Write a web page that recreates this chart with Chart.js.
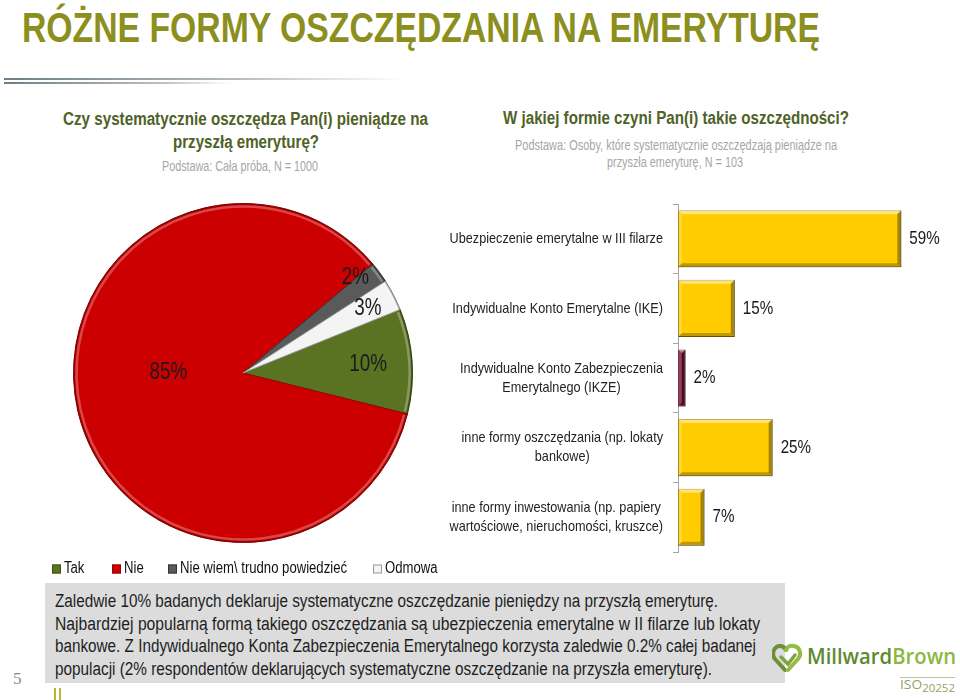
<!DOCTYPE html>
<html lang="pl">
<head>
<meta charset="utf-8">
<title>Różne formy oszczędzania na emeryturę</title>
<script src="https://cdn.jsdelivr.net/npm/chart.js@4.4.1/dist/chart.umd.min.js"></script>
<style>
  html, body { margin: 0; padding: 0; background: #fff; }
  body { width: 960px; height: 700px; position: relative; overflow: hidden;
         font-family: "Liberation Sans", Arial, sans-serif; }
  .ln { position: absolute; white-space: nowrap; display: inline-block; transform-origin: left center; }
  .title { font-size: 42px; line-height: 42px; font-weight: bold; color: #8C8F1E; }
  .q { font-weight: bold; color: #4F6228; font-size: 18px; line-height: 22px; }
  .base { color: #A6A6A6; font-size: 14px; line-height: 17px; }
  .note { font-size: 18px; line-height: 21px; color: #1E1E1E; }
  .brand { font-family: "Open Sans", Lato, sans-serif; font-weight: 600; font-size: 22px; line-height: 26px; }
  .iso { font-family: "Open Sans", sans-serif; font-size: 12px; line-height: 14px; color: #8FA560; border-top: 1px solid #B7C59A; }
  .rule { position: absolute; left: 4px; height: 2px; }
  #box { position: absolute; left: 45px; top: 583px; width: 740px; height: 100px; background: #DCDCDC; }
  #page { position: absolute; left: 13px; top: 669px; font-family: "Liberation Serif", "DejaVu Serif", serif; font-size: 17px; color: #8A8A8A; }
  .tick { position: absolute; top: 688px; width: 2px; height: 12px; background: #B8B830; }
  #logo { position: absolute; left: 772px; top: 643px; }
  canvas { position: absolute; }
</style>
</head>
<body>
<div class="rule" style="top:78px;width:400px;background:linear-gradient(to right,#6F7E86,#AEB8BD 55%,rgba(255,255,255,0));"></div>
<div class="rule" style="top:82px;width:228px;background:linear-gradient(to right,#6F7E86,#B9C1C5 70%,rgba(255,255,255,0));"></div>
<div id="box"></div>

<canvas id="pieChart" width="418" height="396" style="left:34px;top:190px;"></canvas>
<canvas id="barChart" width="530" height="370" style="left:430px;top:190px;"></canvas>

<div id="page">5</div>
<div class="tick" style="left:54px;"></div>
<div class="tick" style="left:59px;"></div>

<svg id="logo" width="34" height="30" viewBox="0 0 34 30">
  <path d="M13 27 L3 16 C-1 11 2 3 8 3 C11 3 13 5 14 7" fill="none" stroke="#6E8F3A" stroke-width="4" stroke-linecap="round"/>
  <path d="M14 7 C15 4 18 2 22 3 C28 4 30 11 26 16 L16 27" fill="none" stroke="#93BC45" stroke-width="4" stroke-linecap="round"/>
  <path d="M9 14 L16 21 L23 12" fill="none" stroke="#7FA33E" stroke-width="3.5" stroke-linecap="round"/>
</svg>

<script>
const FONT = '"Liberation Sans", Arial, sans-serif';
const NARROW_K = 0.82;   // squeeze Liberation Sans to look like Arial Narrow

// pie: Czy systematycznie oszczędza...
const pieLabels = ['Tak', 'Nie', 'Nie wiem\\ trudno powiedzieć', 'Odmowa'];
const pieValues = [10, 85, 2, 3];

// bars: W jakiej formie...
const barLabels = [
  ['Ubezpieczenie emerytalne w III filarze'],
  ['Indywidualne Konto Emerytalne (IKE)'],
  ['Indywidualne Konto Zabezpieczenia', 'Emerytalnego (IKZE)'],
  ['inne formy oszczędzania (np. lokaty', 'bankowe)'],
  ['inne formy inwestowania (np. papiery', 'wartościowe, nieruchomości, kruszce)']
];
const barValues = [59, 15, 2, 25, 7];

// styles
const pieColors = ['#5A7322', '#CC0000', '#5A5A5A', '#F4F4F4'];
const pieBorders = ['#3E5214', '#9A0000', '#333333', '#9A9A9A'];
const pieLabelRadius = [0.74, 0.44, 0.87, 0.83];
const pieLabelTurn = [0, 13, -4, 0];  // degrees, nudges label position along the slice
const legendX = [18, 78, 134, 339];   // box positions inside pie canvas
const barColors = ['#FFCC00', '#FFCC00', '#7A0E30', '#FFCC00', '#FFCC00'];
const barBorders = ['#8C6D00', '#8C6D00', '#4A0418', '#8C6D00', '#8C6D00'];

// text lines: [text, class, left, centerY, width]
const textLines = [
  ['RÓŻNE FORMY OSZCZĘDZANIA NA EMERYTURĘ', 'title', 22, 28, 798],
  ['Czy systematycznie oszczędza Pan(i) pieniądze na', 'q', 63, 119, 365],
  ['przyszłą emeryturę?', 'q', 173, 142, 146],
  ['Podstawa: Cała próba, N = 1000', 'base', 162, 166, 156],
  ['W jakiej formie czyni Pan(i) takie oszczędności?', 'q', 503, 118, 346],
  ['Podstawa: Osoby, które systematycznie oszczędzają pieniądze na', 'base', 515, 145, 322],
  ['przyszła emeryturę, N = 103', 'base', 607, 162, 136],
  ['Zaledwie 10% badanych deklaruje systematyczne oszczędzanie pieniędzy na przyszłą emeryturę.', 'note', 55, 601, 663],
  ['Najbardziej popularną formą takiego oszczędzania są ubezpieczenia emerytalne w II filarze lub lokaty', 'note', 55, 624, 705],
  ['bankowe. Z Indywidualnego Konta Zabezpieczenia Emerytalnego korzysta zaledwie 0.2% całej badanej', 'note', 55, 646, 701],
  ['populacji (2% respondentów deklarujących systematyczne oszczędzanie na przyszła emeryturę).', 'note', 55, 669, 657],
  ['<span style="color:#5E8A2E">Millward</span><span style="color:#8CB83F">Brown</span>', 'brand', 807, 655, 149],
  ['ISO<sub style="font-size:10px">20252</sub>', 'iso', 900, 686, 55]
];

textLines.forEach(t => {
  const el = document.createElement('div');
  el.className = 'ln ' + t[1];
  el.innerHTML = t[0];
  document.body.appendChild(el);
  const r = el.getBoundingClientRect();
  el.style.left = t[2] + 'px';
  el.style.top = (t[3] - r.height / 2) + 'px';
  el.style.transform = 'scaleX(' + (t[4] / r.width) + ')';
});

function narrowText(ctx, text, x, y, align, k) {
  ctx.save();
  ctx.translate(x, y);
  ctx.scale(k, 1);
  ctx.textAlign = align;
  ctx.fillText(text, 0, 0);
  ctx.restore();
}

// 3D-ish edge on the slices
const pieBevel = {
  id: 'pieBevel',
  afterDatasetsDraw(chart) {
    const ctx = chart.ctx;
    ctx.save();
    chart.getDatasetMeta(0).data.forEach(arc => {
      const p = arc.getProps(['x', 'y', 'startAngle', 'endAngle', 'outerRadius'], true);
      ctx.beginPath();
      ctx.arc(p.x, p.y, p.outerRadius - 3, p.startAngle + 0.01, p.endAngle - 0.01);
      ctx.strokeStyle = 'rgba(255,255,255,0.28)';
      ctx.lineWidth = 2.5;
      ctx.stroke();
      ctx.beginPath();
      ctx.arc(p.x, p.y, p.outerRadius - 0.5, p.startAngle, p.endAngle);
      ctx.strokeStyle = 'rgba(0,0,0,0.25)';
      ctx.lineWidth = 1.5;
      ctx.stroke();
    });
    ctx.restore();
  }
};

const pieText = {
  id: 'pieText',
  afterDatasetsDraw(chart) {
    const ctx = chart.ctx;
    ctx.save();
    ctx.font = '23px ' + FONT;
    ctx.fillStyle = '#1A1A1A';
    ctx.textBaseline = 'middle';
    chart.getDatasetMeta(0).data.forEach((arc, i) => {
      const p = arc.getProps(['x', 'y', 'startAngle', 'endAngle', 'outerRadius'], true);
      const mid = (p.startAngle + p.endAngle) / 2 + pieLabelTurn[i] * Math.PI / 180;
      const r = p.outerRadius * pieLabelRadius[i];
      narrowText(ctx, pieValues[i] + '%', p.x + Math.cos(mid) * r, p.y + Math.sin(mid) * r, 'center', NARROW_K);
    });
    ctx.restore();
  }
};

// legend drawn by hand so the text can be narrow
const pieLegend = {
  id: 'pieLegend',
  afterDraw(chart) {
    const ctx = chart.ctx;
    const ds = chart.data.datasets[0];
    const y = 379;
    ctx.save();
    ctx.font = '16px ' + FONT;
    ctx.textBaseline = 'middle';
    chart.data.labels.forEach((lab, i) => {
      const x = legendX[i];
      ctx.fillStyle = ds.backgroundColor[i];
      ctx.strokeStyle = ds.borderColor[i];
      ctx.lineWidth = 1;
      ctx.fillRect(x, y - 4.5, 9, 9);
      ctx.strokeRect(x + 0.5, y - 4, 8, 8);
      ctx.fillStyle = '#111';
      narrowText(ctx, lab, x + 12, y, 'left', NARROW_K);
    });
    ctx.restore();
  }
};

new Chart(document.getElementById('pieChart'), {
  type: 'pie',
  data: {
    labels: pieLabels,
    datasets: [{ data: pieValues, backgroundColor: pieColors, borderColor: pieBorders, borderWidth: 1 }]
  },
  options: {
    responsive: false,
    animation: false,
    rotation: 68,
    layout: { padding: { top: 13, bottom: 43 } },
    plugins: { legend: { display: false }, tooltip: { enabled: false } }
  },
  plugins: [pieBevel, pieText, pieLegend]
});

// bar bevel + texts
const barBevel = {
  id: 'barBevel',
  afterDatasetsDraw(chart) {
    const ctx = chart.ctx;
    ctx.save();
    chart.getDatasetMeta(0).data.forEach(bar => {
      const l = bar.base, r = bar.x, t = bar.y - bar.height / 2, b = bar.y + bar.height / 2;
      const e = Math.min(4, (r - l) / 2);
      const poly = (pts, fill) => {
        ctx.beginPath();
        ctx.moveTo(pts[0][0], pts[0][1]);
        pts.slice(1).forEach(q => ctx.lineTo(q[0], q[1]));
        ctx.closePath();
        ctx.fillStyle = fill;
        ctx.fill();
      };
      poly([[l, t], [r, t], [r - e, t + e], [l + e, t + e]], 'rgba(255,255,255,0.45)');
      poly([[l, t], [l + e, t + e], [l + e, b - e], [l, b]], 'rgba(255,255,255,0.2)');
      poly([[r, t], [r, b], [r - e, b - e], [r - e, t + e]], 'rgba(0,0,0,0.35)');
      poly([[l, b], [r, b], [r - e, b - e], [l + e, b - e]], 'rgba(0,0,0,0.25)');
    });
    ctx.restore();
  }
};

const barText = {
  id: 'barText',
  afterDraw(chart) {
    const ctx = chart.ctx;
    const yScale = chart.scales.y;
    const right = chart.chartArea.left - 15;
    const k = 0.845;
    ctx.save();
    ctx.textBaseline = 'middle';
    ctx.fillStyle = '#222';
    ctx.font = '15px ' + FONT;
    barLabels.forEach((lines, i) => {
      const y = yScale.getPixelForValue(i);
      const w = Math.max(...lines.map(s => ctx.measureText(s).width)) * k;
      lines.forEach((s, j) => {
        narrowText(ctx, s, right - w / 2, y + (j - (lines.length - 1) / 2) * 19, 'center', k);
      });
    });
    ctx.font = '19px ' + FONT;
    ctx.fillStyle = '#1A1A1A';
    chart.getDatasetMeta(0).data.forEach((bar, i) => {
      narrowText(ctx, barValues[i] + '%', bar.x + 8, bar.y, 'left', 0.8);
    });
    ctx.restore();
  }
};

new Chart(document.getElementById('barChart'), {
  type: 'bar',
  data: {
    labels: barLabels,
    datasets: [{
      data: barValues,
      backgroundColor: barColors,
      borderColor: barBorders,
      borderWidth: 1,
      borderSkipped: false,
      categoryPercentage: 1,
      barPercentage: 0.82
    }]
  },
  options: {
    indexAxis: 'y',
    responsive: false,
    animation: false,
    layout: { padding: { left: 243, top: 14, bottom: 8, right: 17 } },
    scales: {
      x: { display: false, min: 0, max: 70 },
      y: {
        ticks: { display: false },
        grid: { display: true, drawOnChartArea: false, drawTicks: true, tickLength: 5, color: '#A6A6A6', offset: true },
        border: { display: true, color: '#A6A6A6' }
      }
    },
    plugins: { legend: { display: false }, tooltip: { enabled: false } }
  },
  plugins: [barBevel, barText]
});
</script>
</body>
</html>
